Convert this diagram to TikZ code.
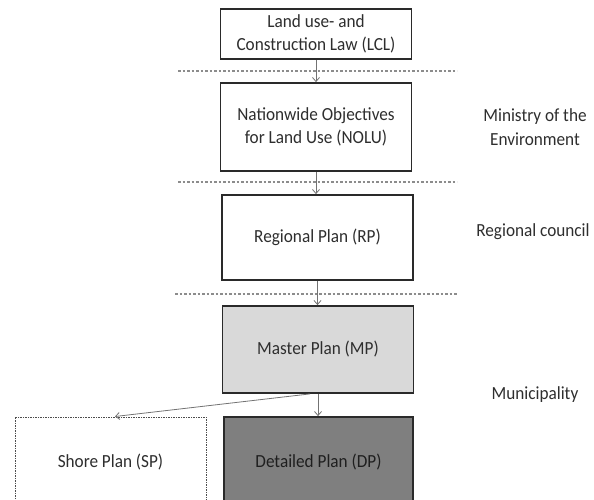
\documentclass[tikz,border=0pt]{standalone}
\usepackage{fontspec}
\setmainfont{Carlito}[FakeStretch=0.93]
\usetikzlibrary{arrows.meta}
\definecolor{txt}{HTML}{2E2E2E}
\definecolor{bord}{HTML}{2A2A2A}
\definecolor{sep}{HTML}{8C8C8C}
\definecolor{mpfill}{HTML}{D9D9D9}
\definecolor{dpfill}{HTML}{7F7F7F}
\begin{document}
\begin{tikzpicture}[x=1pt,y=-1pt,
  font=\fontsize{18.5}{23.5}\selectfont,
  planbox/.style={draw=bord,line width=1.8pt,fill=white,text=txt,align=center,inner sep=0pt,
    minimum width=191pt},
  sepline/.style={sep,line width=1.3pt,dash pattern=on 2.5pt off 2pt},
  flow/.style={draw=black!55,line width=0.8pt,-{Straight Barb[length=4pt,width=7pt]}},
  sidelabel/.style={text=txt,align=center,inner sep=0pt}]
\useasboundingbox (0,0) rectangle (594,500);
% separators
\coordinate (s1a) at (178,71);  \coordinate (s1b) at (457,71);
\coordinate (s2a) at (178,182); \coordinate (s2b) at (457,182);
\coordinate (s3a) at (175,294); \coordinate (s3b) at (458,294);
\draw[sepline] (s1a) -- (s1b);
\draw[sepline] (s2a) -- (s2b);
\draw[sepline] (s3a) -- (s3b);
% boxes
\node[planbox,minimum height=50pt] (LCL) at (316,34) {Land use- and\\Construction Law (LCL)};
\node[planbox,minimum height=88pt] (NOLU) at (316,127) {Nationwide Objectives\\for Land Use (NOLU)};
\node[planbox,minimum height=85pt] (RP) at (317.5,237.5) {Regional Plan (RP)};
\node[planbox,minimum height=87pt,fill=mpfill] (MP) at (318,349.5) {Master Plan (MP)};
\node[planbox,minimum height=90pt,minimum width=189pt,fill=dpfill,text=black!88] (DP) at (318.5,462) {Detailed Plan (DP)};
\node[planbox,minimum height=90pt,draw=black!70,line width=1pt,dash pattern=on 1.5pt off 1pt] (SP) at (110.5,462) {Shore Plan (SP)};
% side labels
\node[sidelabel] (MoE) at (535,127) {Ministry of the\\Environment};
\node[sidelabel] (RC) at (533,232) {Regional council};
\node[sidelabel] (MU) at (535,395) {Municipality};
% arrows
\draw[flow] (LCL) -- (NOLU);
\draw[flow] (NOLU.south) -- (NOLU.south |- RP.north);
\draw[flow] (RP.south) -- (RP.south |- MP.north);
\draw[flow] (MP.south) -- (MP.south |- DP.north);
\draw[flow] ([xshift=-8pt]MP.south) -- ([xshift=4.5pt]SP.north);
\end{tikzpicture}
\end{document}
